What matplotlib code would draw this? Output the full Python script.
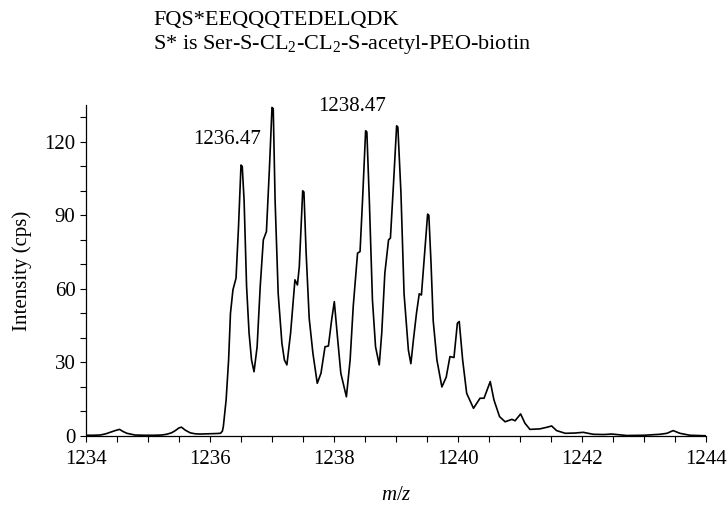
import matplotlib
matplotlib.use("Agg")
import matplotlib.pyplot as plt
from matplotlib.ticker import MultipleLocator

plt.rcParams["font.family"] = ["Liberation Serif", "DejaVu Serif"]
plt.rcParams["mathtext.fontset"] = "custom"
plt.rcParams["mathtext.rm"] = "Liberation Serif"
plt.rcParams["mathtext.it"] = "Liberation Serif:italic"

# Isotope envelope of the labelled peptide (profile-mode trace)
mz = [
    1234.00, 1234.12, 1234.23, 1234.32, 1234.39, 1234.47, 1234.54, 1234.60,
    1234.66, 1234.79, 1234.95, 1235.10, 1235.22, 1235.30, 1235.38, 1235.44,
    1235.50, 1235.54, 1235.60, 1235.68, 1235.76, 1235.84, 1236.00, 1236.10,
    1236.17, 1236.20, 1236.215, 1236.26, 1236.30, 1236.33, 1236.37, 1236.42,
    1236.46, 1236.50, 1236.52, 1236.55, 1236.59, 1236.63, 1236.67, 1236.71,
    1236.76, 1236.81, 1236.86, 1236.91, 1236.96, 1237.00, 1237.02, 1237.05,
    1237.10, 1237.16, 1237.20, 1237.24, 1237.30, 1237.37, 1237.41, 1237.44,
    1237.495, 1237.515, 1237.55, 1237.60, 1237.66, 1237.73, 1237.79, 1237.855,
    1237.91, 1237.96, 1238.005, 1238.05, 1238.11, 1238.20, 1238.26, 1238.31,
    1238.38, 1238.42, 1238.46, 1238.51, 1238.53, 1238.57, 1238.62, 1238.67,
    1238.73, 1238.77, 1238.82, 1238.88, 1238.91, 1238.96, 1239.01, 1239.03,
    1239.08, 1239.13, 1239.20, 1239.24, 1239.28, 1239.33, 1239.375, 1239.41,
    1239.45, 1239.51, 1239.53, 1239.565, 1239.60, 1239.66, 1239.74, 1239.81,
    1239.87, 1239.935, 1239.99, 1240.02, 1240.075, 1240.14, 1240.25, 1240.355,
    1240.42, 1240.52, 1240.58, 1240.67, 1240.76, 1240.87, 1240.92, 1241.01,
    1241.08, 1241.16, 1241.32, 1241.44, 1241.51, 1241.59, 1241.73, 1241.88,
    1242.02, 1242.18, 1242.35, 1242.48, 1242.72, 1243.00, 1243.26, 1243.37,
    1243.47, 1243.58, 1243.74, 1244.00,
]
intensity = [
    0.3, 0.3, 0.4, 0.9, 1.5, 2.2, 2.7, 1.8,
    1.1, 0.4, 0.3, 0.3, 0.4, 0.7, 1.3, 2.2,
    3.3, 3.6, 2.4, 1.3, 0.9, 0.8, 0.9, 1.0,
    1.1, 2.0, 3.8, 14.7, 31.0, 50.0, 59.6, 64.4,
    85.4, 110.5, 110.0, 96.0, 61.0, 42.0, 31.0, 26.2,
    36.4, 61.0, 80.0, 83.4, 110.0, 134.0, 133.5, 96.0,
    58.0, 37.8, 31.0, 29.0, 42.0, 63.7, 61.6, 69.0,
    100.0, 99.5, 75.0, 48.0, 33.7, 21.5, 25.6, 36.4,
    36.7, 47.0, 54.8, 42.0, 25.6, 16.0, 31.0, 52.8,
    74.6, 75.2, 96.0, 124.5, 124.0, 96.0, 55.5, 36.4,
    29.0, 42.0, 66.4, 80.0, 80.7, 103.0, 126.5, 126.0,
    99.0, 58.0, 35.0, 29.5, 39.0, 50.0, 58.0, 57.5,
    70.5, 90.5, 90.0, 70.5, 47.0, 31.0, 20.0, 24.0,
    32.4, 32.0, 46.0, 46.7, 31.0, 17.4, 11.3, 15.4,
    15.4, 22.2, 14.7, 7.9, 5.8, 6.8, 6.2, 9.0,
    5.2, 2.7, 2.9, 3.6, 4.1, 2.2, 1.1, 1.2,
    1.5, 0.7, 0.6, 0.8, 0.2, 0.3, 0.7, 1.1,
    2.2, 1.1, 0.3, 0.1,
]

# Annotated peaks
peak_labels = ["1236.47", "1238.47"]
peak_label_pos = [(1236.27, 121.0), (1238.29, 134.5)]

x_ticks = [1234, 1236, 1238, 1240, 1242, 1244]
y_ticks = [0, 30, 60, 90, 120]

fig = plt.figure(figsize=(7.28, 5.08), dpi=100)
ax = fig.add_axes([86 / 728, 1 - 436 / 508, 620 / 728, 331 / 508])

ax.plot(mz, intensity, color="black", lw=1.2)

ax.set_xlim(1234, 1244)
ax.set_ylim(0, 135)
ax.set_xticks(x_ticks)
ax.set_yticks(y_ticks)
ax.xaxis.set_minor_locator(MultipleLocator(0.5))
ax.yaxis.set_minor_locator(MultipleLocator(10))

for side in ("top", "right"):
    ax.spines[side].set_visible(False)
for side in ("left", "bottom"):
    ax.spines[side].set_linewidth(0.9)

ax.tick_params(which="both", direction="out", length=4, width=0.8,
               labelsize=15, color="black")
ax.tick_params(axis="x", pad=6)

ax.set_xlabel("$m/z$", fontsize=15, labelpad=12)
ax.set_ylabel("Intensity (cps)", fontsize=15, labelpad=9)

for text, (tx, ty) in zip(peak_labels, peak_label_pos):
    ax.text(tx, ty, text, ha="center", va="center", fontsize=15,
            clip_on=False)

fig.text(153 / 728, 1 - 20 / 508, "FQS*EEQQQTEDELQDK", ha="left",
         va="center", fontsize=16)
fig.text(153 / 728, 1 - 44 / 508,
         "S* is Ser-S-CL$_2$-CL$_2$-S-acetyl-PEO-biotin", ha="left",
         va="center", fontsize=16)

fig.savefig("out.png", dpi=100)
